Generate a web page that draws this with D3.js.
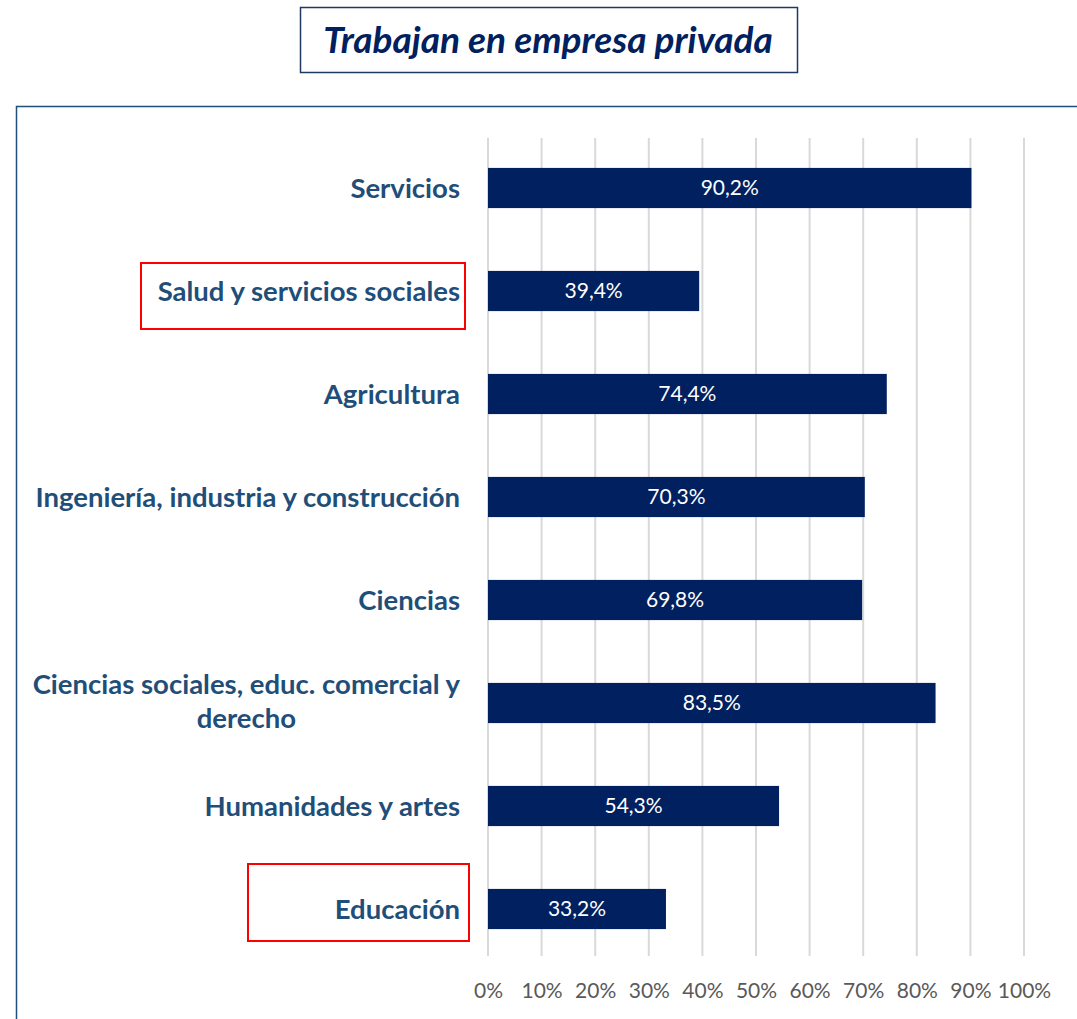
<!DOCTYPE html>
<html>
<head>
<meta charset="utf-8">
<script src="https://cdn.jsdelivr.net/npm/d3@7"></script>
<style>
  body { margin: 0; background: #fff; }
  svg { display: block; font-family: Lato, "Open Sans", sans-serif; }
</style>
</head>
<body>
<div id="chart"></div>
<script>
const categories = [
	['Servicios'],
	['Salud y servicios sociales'],
	['Agricultura'],
	['Ingeniería, industria y construcción'],
	['Ciencias'],
	['Ciencias sociales, educ. comercial y', 'derecho'],
	['Humanidades y artes'],
	['Educación'],
];
const values = [90.2, 39.4, 74.4, 70.3, 69.8, 83.5, 54.3, 33.2];
const valueLabels = ['90,2%', '39,4%', '74,4%', '70,3%', '69,8%', '83,5%', '54,3%', '33,2%'];
const tickValues = [0, 10, 20, 30, 40, 50, 60, 70, 80, 90, 100];
const highlighted = ['Salud y servicios sociales', 'Educación'];

const width = 1077;
const height = 1019;

const svg = d3
	.select('#chart')
	.append('svg')
	.attr('width', width)
	.attr('height', height);

// title box
svg
	.append('rect')
	.attr('x', 300.5)
	.attr('y', 7.5)
	.attr('width', 497)
	.attr('height', 65)
	.attr('fill', '#fff')
	.attr('stroke', '#1f3864')
	.attr('stroke-width', 1.5);

svg
	.append('text')
	.attr('x', 548)
	.attr('y', 53)
	.attr('text-anchor', 'middle')
	.style('font-size', '37px')
	.style('font-weight', 'bold')
	.style('font-style', 'italic')
	.attr('fill', '#002060')
	.text('Trabajan en empresa privada');

// chart frame (runs off the right and bottom)
svg
	.append('path')
	.attr('d', 'M16.5,1030 V106.5 H1090')
	.attr('fill', 'none')
	.attr('stroke', '#1f4e79')
	.attr('stroke-width', 1.5);

const x = d3.scaleLinear().domain([0, 100]).range([488, 1024]);

const y = d3
	.scaleBand()
	.domain(d3.range(categories.length))
	.range([136.5, 960.5])
	.paddingInner(0.61)
	.paddingOuter(0.305);

// gridlines
svg
	.append('g')
	.selectAll('line')
	.data(tickValues)
	.join('line')
	.attr('x1', (d) => x(d))
	.attr('x2', (d) => x(d))
	.attr('y1', 138)
	.attr('y2', 956)
	.attr('stroke', '#d9d9d9')
	.attr('stroke-width', 2);

// axis labels
const xAxis = svg
	.append('g')
	.attr('transform', 'translate(0,956)')
	.call(
		d3
			.axisBottom(x)
			.tickValues(tickValues)
			.tickSize(0)
			.tickPadding(0)
			.tickFormat((d) => d + '%')
	);
xAxis.select('.domain').remove();
xAxis
	.selectAll('text')
	.attr('y', 0)
	.attr('dy', '42px')
	.style('font-size', '21px')
	.style('font-family', 'Lato, "Open Sans", sans-serif')
	.attr('fill', '#595959');

// bars
svg
	.append('g')
	.selectAll('rect')
	.data(values)
	.join('rect')
	.attr('x', x(0))
	.attr('y', (d, i) => y(i))
	.attr('width', (d) => x(d) - x(0))
	.attr('height', y.bandwidth())
	.attr('fill', '#002060');

svg
	.append('g')
	.selectAll('text')
	.data(values)
	.join('text')
	.attr('x', (d) => (x(0) + x(d)) / 2)
	.attr('y', (d, i) => y(i) + y.bandwidth() / 2)
	.attr('dy', '0.35em')
	.attr('text-anchor', 'middle')
	.style('font-size', '21px')
	.attr('fill', '#fff')
	.text((d, i) => valueLabels[i]);

// category labels, wrapped lines centred on each other, block right-aligned
const labelRight = 460;
const lineHeight = 34;
const catGroup = svg.append('g');
categories.forEach((lines, i) => {
	const cy = y(i) + y.bandwidth() / 2;
	const top = cy - ((lines.length - 1) * lineHeight) / 2 - (lines.length > 1 ? 2 : 0);
	const t = catGroup
		.append('text')
		.style('font-size', '27.5px')
		.style('font-weight', 'bold')
		.attr('fill', '#1f4e79');
	const spans = lines.map((line, j) =>
		t
			.append('tspan')
			.attr('y', top + j * lineHeight)
			.attr('dy', '0.35em')
			.text(line)
	);
	const widths = spans.map((s) => s.node().getComputedTextLength());
	const maxW = d3.max(widths);
	const center = labelRight - maxW / 2;
	spans.forEach((s) => s.attr('x', center).attr('text-anchor', 'middle'));

	if (highlighted.includes(lines[0])) {
		catGroup
			.append('rect')
			.attr('fill', 'none')
			.attr('stroke', '#ff0000')
			.attr('stroke-width', 2)
			.attr('data-cat', i);
	}
});

// red highlight boxes
const boxes = [
	{ cat: 1, x0: 141, x1: 465, pad: [28, 38] },
	{ cat: 7, x0: 248, x1: 469, pad: [45, 32] },
];
catGroup
	.selectAll('rect')
	.data(boxes)
	.attr('x', (d) => d.x0)
	.attr('width', (d) => d.x1 - d.x0)
	.attr('y', (d) => y(d.cat) + y.bandwidth() / 2 - d.pad[0])
	.attr('height', (d) => d.pad[0] + d.pad[1]);
</script>
</body>
</html>
